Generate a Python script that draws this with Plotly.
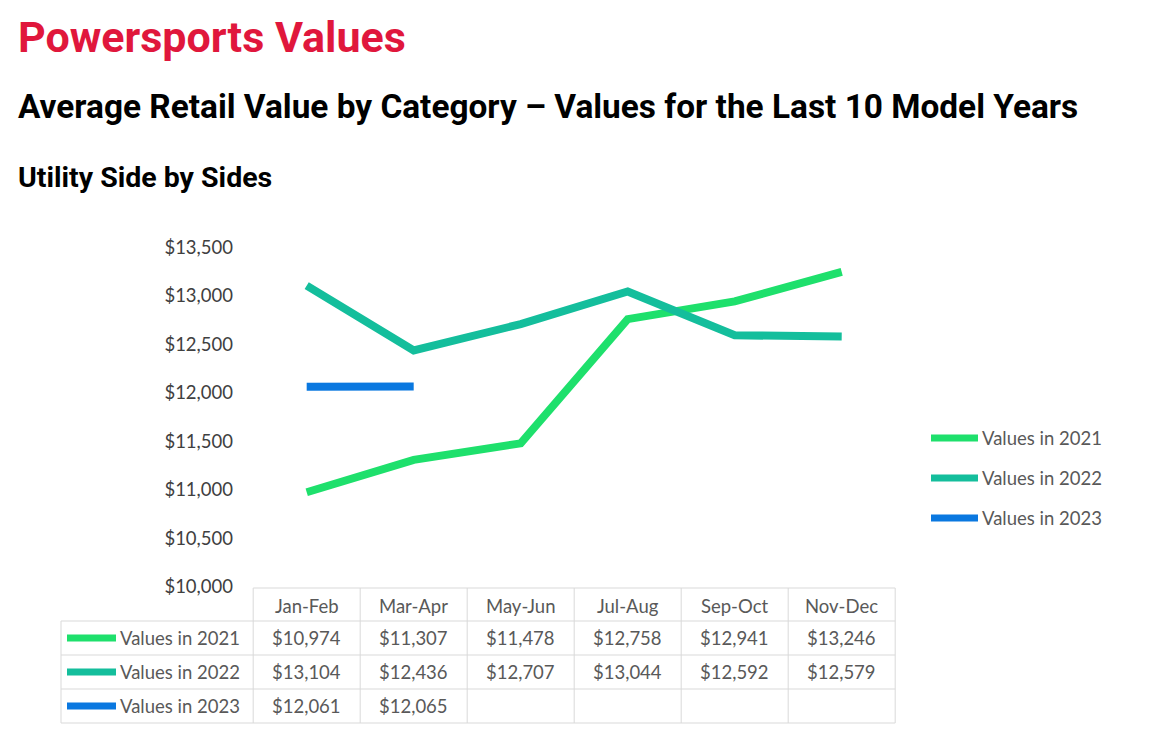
import plotly.graph_objects as go

W, H = 1155, 754

periods = ["Jan-Feb", "Mar-Apr", "May-Jun", "Jul-Aug", "Sep-Oct", "Nov-Dec"]
series_names = ["Values in 2021", "Values in 2022", "Values in 2023"]
values_2021 = [10974, 11307, 11478, 12758, 12941, 13246]
values_2022 = [13104, 12436, 12707, 13044, 12592, 12579]
values_2023 = [12061, 12065]
colors = ["#1EE06C", "#14BE9C", "#0A78E0"]
y_ticks = [10000, 10500, 11000, 11500, 12000, 12500, 13000, 13500]

all_series = [values_2021, values_2022, values_2023]

TXT = "#595959"
FONT = "Lato"
FS = 18.5
GRID = "#D9D9D9"
OFF = 8  # page body margin

# x index <-> screen pixel: p = 306.7 + 107.3 * i
X0, XS = 306.7, 107.0
x_range = [(OFF - X0) / XS, (W + OFF - X0) / XS]
# y value <-> screen pixel: p = 392.7 - (v - 12000) * 0.097
YK = 0.097
y_range = [12000 - (H + OFF - 392.7) / YK, 12000 + (392.7 - OFF) / YK]


def px(p):
    return (p - OFF) / W


def py(p):
    return 1 - (p - OFF) / H


def xi(p):
    return (p - X0) / XS


fig = go.Figure()
x_idx = list(range(len(periods)))
for name, vals, col in zip(series_names, all_series, colors):
    fig.add_trace(go.Scatter(
        x=x_idx[:len(vals)], y=vals, mode="lines", name=name,
        line=dict(color=col, width=8), showlegend=False,
        hovertemplate="%{y:$,.0f}<extra>" + name + "</extra>",
    ))

shapes = []
annotations = []

# Titles
annotations.append(dict(text="<b>Powersports Values</b>", x=px(16), y=py(37), xref="paper", yref="paper",
                        xanchor="left", yanchor="middle", showarrow=False,
                        font=dict(family="Roboto", size=43, color="#E0173C")))
annotations.append(dict(text="<b>Average Retail Value by Category – Values for the Last 10 Model Years</b>",
                        x=px(16), y=py(107), xref="paper", yref="paper",
                        xanchor="left", yanchor="middle", showarrow=False,
                        font=dict(family="Roboto", size=33.4, color="#000000")))
annotations.append(dict(text="<b>Utility Side by Sides</b>", x=px(16), y=py(177), xref="paper", yref="paper",
                        xanchor="left", yanchor="middle", showarrow=False,
                        font=dict(family="Roboto", size=28.5, color="#000000")))

# Legend (right)
leg_y = [438, 478, 518]
for name, col, ly in zip(series_names, colors, leg_y):
    shapes.append(dict(type="line", xref="paper", yref="paper", x0=px(931), x1=px(978), y0=py(ly), y1=py(ly),
                       line=dict(color=col, width=7)))
    annotations.append(dict(text=name, x=px(980), y=py(ly), xref="paper", yref="paper",
                            xanchor="left", yanchor="middle", showarrow=False,
                            font=dict(family=FONT, size=FS, color=TXT)))

# Data table
row_edges = [588, 621, 655, 689, 723]
label_left = xi(61)
n = len(periods)
shapes.append(dict(type="line", xref="x", yref="paper", x0=-0.5, x1=n - 0.5,
                   y0=py(row_edges[0]), y1=py(row_edges[0]), line=dict(color=GRID, width=1)))
for e in row_edges[1:]:
    shapes.append(dict(type="line", xref="x", yref="paper", x0=label_left, x1=n - 0.5,
                       y0=py(e), y1=py(e), line=dict(color=GRID, width=1)))
shapes.append(dict(type="line", xref="x", yref="paper", x0=label_left, x1=label_left,
                   y0=py(row_edges[1]), y1=py(row_edges[-1]), line=dict(color=GRID, width=1)))
for i in range(n + 1):
    shapes.append(dict(type="line", xref="x", yref="paper", x0=i - 0.5, x1=i - 0.5,
                       y0=py(row_edges[0]), y1=py(row_edges[-1]), line=dict(color=GRID, width=1)))
hy = (row_edges[0] + row_edges[1]) / 2 + 1
for i, p in enumerate(periods):
    annotations.append(dict(text=p, x=i, y=py(hy), xref="x", yref="paper", xanchor="center", yanchor="middle",
                            showarrow=False, font=dict(family=FONT, size=FS, color=TXT)))
for r, (name, vals, col) in enumerate(zip(series_names, all_series, colors)):
    cy = (row_edges[r + 1] + row_edges[r + 2]) / 2
    shapes.append(dict(type="line", xref="paper", yref="paper", x0=px(67), x1=px(116), y0=py(cy), y1=py(cy),
                       line=dict(color=col, width=7)))
    annotations.append(dict(text=name, x=px(118), y=py(cy), xref="paper", yref="paper",
                            xanchor="left", yanchor="middle", showarrow=False,
                            font=dict(family=FONT, size=FS, color=TXT)))
    for i, v in enumerate(vals):
        annotations.append(dict(text=f"${v:,}", x=i, y=py(cy), xref="x", yref="paper",
                                xanchor="center", yanchor="middle", showarrow=False,
                                font=dict(family=FONT, size=FS, color=TXT)))

fig.update_layout(
    width=W, height=H,
    margin=dict(l=0, r=0, t=0, b=0),
    paper_bgcolor="white", plot_bgcolor="white",
    showlegend=False,
    xaxis=dict(range=x_range, domain=[0, 1], showgrid=False, zeroline=False,
               showticklabels=False, showline=False, fixedrange=True),
    yaxis=dict(range=y_range, domain=[0, 1], anchor="free", position=(233 - OFF) / W,
               tickvals=y_ticks, ticktext=[f"${t:,}" for t in y_ticks],
               showgrid=False, zeroline=False, showline=False, ticks="",
               tickfont=dict(family=FONT, size=FS, color="#404040"), fixedrange=True),
    shapes=shapes, annotations=annotations,
)

fig.write_html("out.html")
